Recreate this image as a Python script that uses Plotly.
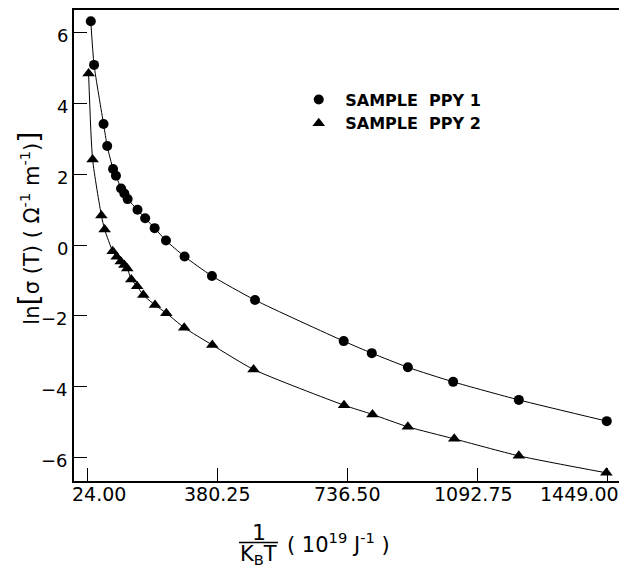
import plotly.graph_objects as go

# ---- data ----
ppy1_x = [34, 43, 69, 79, 95, 103, 117, 126, 135, 162, 183, 209, 240, 291, 366, 484,
          727, 804, 903, 1027, 1207, 1448]
ppy1_y = [6.32, 5.09, 3.42, 2.80, 2.15, 1.96, 1.60, 1.46, 1.30, 1.00, 0.76, 0.48, 0.13,
          -0.32, -0.87, -1.55, -2.71, -3.05, -3.45, -3.86, -4.37, -4.97]

ppy2_x = [28, 39, 63, 72, 94, 105, 116, 126, 134, 145, 161, 178, 210, 241, 290, 367, 480,
          728, 806, 903, 1030, 1207, 1447]
ppy2_y = [4.85, 2.42, 0.84, 0.44, -0.17, -0.33, -0.46, -0.56, -0.66, -0.97, -1.16, -1.41,
          -1.69, -1.92, -2.33, -2.82, -3.51, -4.52, -4.78, -5.13, -5.47, -5.95, -6.43]

x_tickvals = [24.00, 380.25, 736.50, 1092.75, 1449.00]
x_ticktext = ["24.00", "380.25", "736.50", "1092.75", "1449.00"]
y_tickvals = [-6, -4, -2, 0, 2, 4, 6]
y_ticktext = ["\u22126", "\u22124", "\u22122", "0", "2", "4", "6"]
series_names = ["SAMPLE  PPY 1", "SAMPLE  PPY 2"]

FONT = "DejaVu Sans"
# placement of the x tick labels (edge labels are pulled inside the frame)
x_label_anchor = ["left", "center", "center", "center", "right"]
x_label_shift = [-17, 0, 0, -4, 14]

fig = go.Figure()

# fitted curves
for xs, ys in [(ppy1_x, ppy1_y), (ppy2_x, ppy2_y)]:
    fig.add_trace(go.Scatter(x=xs, y=ys, mode="lines",
                             line=dict(color="black", width=1, shape="spline", smoothing=0.6),
                             showlegend=False, hoverinfo="skip"))

fig.add_trace(go.Scatter(x=ppy1_x, y=ppy1_y, mode="markers", name=series_names[0],
                         marker=dict(symbol="circle", size=10, color="black")))
fig.add_trace(go.Scatter(x=ppy2_x, y=ppy2_y, mode="markers", name=series_names[1],
                         marker=dict(symbol="triangle-up", size=11, color="black")))

# the page body adds an 8px margin, so the figure is 8px smaller than the window
fig.update_layout(
    width=619, height=563,
    margin=dict(l=66, r=6, t=2, b=90, autoexpand=False),
    paper_bgcolor="white", plot_bgcolor="white",
    font=dict(family=FONT, color="black", size=17),
    showlegend=True,
    legend=dict(x=0.399, y=0.846, xanchor="left", yanchor="top",
                bgcolor="rgba(0,0,0,0)", font=dict(size=16, family=FONT, weight="bold"),
                itemwidth=43, tracegroupgap=0),
)

fig.update_xaxes(range=[-12, 1487], tickvals=x_tickvals, showticklabels=False,
                 automargin=False,
                 ticks="inside", ticklen=13, tickwidth=1.2, tickcolor="black",
                 showline=True, linecolor="black", linewidth=1.5, mirror=True,
                 showgrid=False, zeroline=False)
fig.update_yaxes(range=[-6.66, 6.64], tickvals=y_tickvals, showticklabels=False,
                 automargin=False,
                 ticks="inside", ticklen=13, tickwidth=1.2, tickcolor="black",
                 showline=True, linecolor="black", linewidth=1.5, mirror=True,
                 showgrid=False, zeroline=False)

# x tick labels
for v, t, a, s in zip(x_tickvals, x_ticktext, x_label_anchor, x_label_shift):
    fig.add_annotation(xref="x", yref="paper", x=v, y=0, text=t, showarrow=False,
                       xanchor=a, yanchor="middle", xshift=s, yshift=-13,
                       font=dict(size=19, family=FONT))
# y tick labels
for v, t in zip(y_tickvals, y_ticktext):
    fig.add_annotation(xref="paper", yref="y", x=0, y=v, text=t, showarrow=False,
                       xanchor="right", yanchor="middle", xshift=-4, yshift=-3,
                       font=dict(size=18, family=FONT))

# axis titles
fig.add_annotation(xref="paper", yref="paper", x=-0.083, y=0.537, textangle=-90,
                   showarrow=False, xanchor="center", yanchor="middle",
                   font=dict(size=21, family=FONT),
                   text="ln<span style='font-size:29px'>[</span>σ (T) ( Ω<sup>-1</sup> m<sup>-1</sup>)<span style='font-size:29px'>]</span>")

fig.add_annotation(xref="paper", yref="paper", x=0.3382, y=-0.1093, text="1",
                   showarrow=False, xanchor="center", yanchor="middle",
                   font=dict(size=22, family=FONT))
fig.add_annotation(xref="paper", yref="paper", x=0.3382, y=-0.157,
                   text="K<sub>B</sub>T", showarrow=False,
                   xanchor="center", yanchor="middle", font=dict(size=21, family=FONT))
fig.add_annotation(xref="paper", yref="paper", x=0.3857, y=-0.1316,
                   text="( 10<sup>19</sup> J<sup>-1</sup> )", showarrow=False,
                   xanchor="left", yanchor="middle", font=dict(size=21, family=FONT))
fig.add_shape(type="line", xref="paper", yref="paper", x0=0.3016, x1=0.3729,
              y0=-0.1306, y1=-0.1306, line=dict(color="black", width=1.5))

fig.write_html("out.html")
